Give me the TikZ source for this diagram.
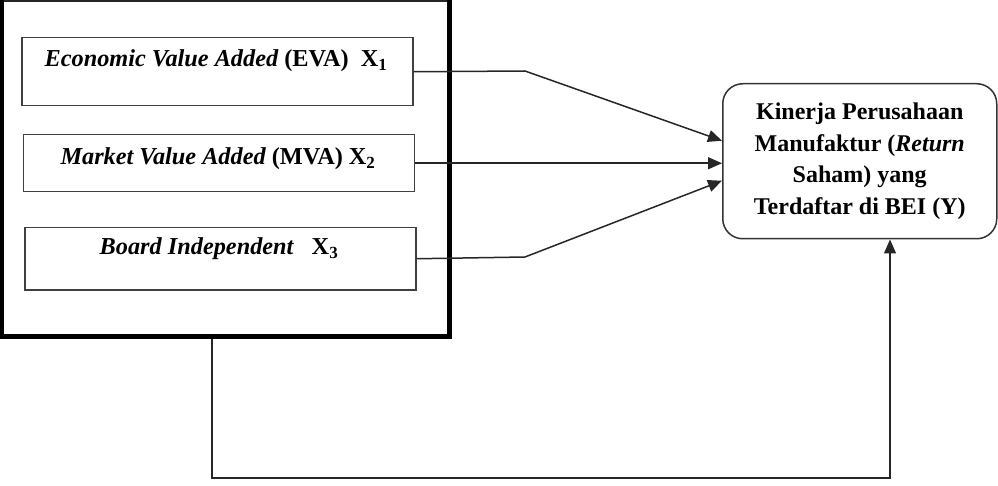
\documentclass[tikz,border=0pt]{standalone}
\usepackage{fontspec}
\setmainfont{Liberation Serif}
\usetikzlibrary{arrows.meta,calc}
\begin{document}
\begin{tikzpicture}[x=1pt,y=-1pt,
  inbox/.style={draw=black!75,line width=1.5pt,inner sep=0pt,anchor=north west},
  lbl/.style={font=\fontsize{24.3}{32}\selectfont\bfseries\itshape,inner sep=0pt},
  conn/.style={draw=black!85,line width=1.5pt},
  arr/.style={conn,-{Triangle[length=14pt,width=12pt]}}]
\useasboundingbox (0,0) rectangle (998,486);
% outer frame
\node[inner sep=0pt,minimum width=446pt,minimum height=335pt,anchor=north west] (outer) at (1.8,1.2) {};
\draw[line width=1.6pt,black!85] (outer.north west) -- (outer.north east);
\draw[line width=3.6pt] ($(outer.north west)+(0,-0.8)$) -- ($(outer.south west)+(0,-2)$);
\draw[line width=5pt] ($(outer.north east)+(1.5,-0.8)$) -- ($(outer.south east)+(1.5,0)$);
\draw[line width=5.5pt] ($(outer.south west)+(-1.8,0)$) -- ($(outer.south east)+(4,0)$);
% inner boxes
\node[inbox,minimum width=391pt,minimum height=68pt] (b1) at (21,37) {};
\node[inbox,minimum width=391pt,minimum height=57pt] (b2) at (22.5,134) {};
\node[inbox,minimum width=391pt,minimum height=62pt] (b3) at (24,227) {};
\node[lbl] (t1) at (216,61) {Economic Value Added \upshape(EVA)\ \ X\textsubscript{1}};
\node[lbl] (t2) at (218,159) {Market Value Added \upshape(MVA) X\textsubscript{2}};
\node[lbl] (t3) at (219,249) {Board Independent\ \ \ \upshape X\textsubscript{3}};
% dependent box
\node[draw=black!80,line width=1.5pt,rounded corners=20pt,minimum width=274pt,minimum height=155pt,anchor=north west,align=center,font=\fontsize{24}{31.7}\selectfont\bfseries,inner sep=0pt] (Y) at (722,83)
  {Kinerja Perusahaan\\Manufaktur (\textit{Return}\\Saham) yang\\Terdaftar di BEI (Y)};
% connectors
\coordinate (k1) at (525,71);
\coordinate (k3) at (525,257);
\draw[arr] (b1.east) -- (k1) -- ($(Y.west)+(0,-20.5)$);
\draw[arr] (b2.east) -- (b2.east -| Y.west);
\draw[arr] (b3.east) -- (k3) -- ($(Y.west)+(0,19.5)$);
\coordinate (f1) at (212,478);
\coordinate (f2) at (890,478);
\draw[arr] ($(outer.south -| f1)+(0,2)$) -- (f1) -- (f2) -- (f2 |- Y.south);
\end{tikzpicture}
\end{document}
